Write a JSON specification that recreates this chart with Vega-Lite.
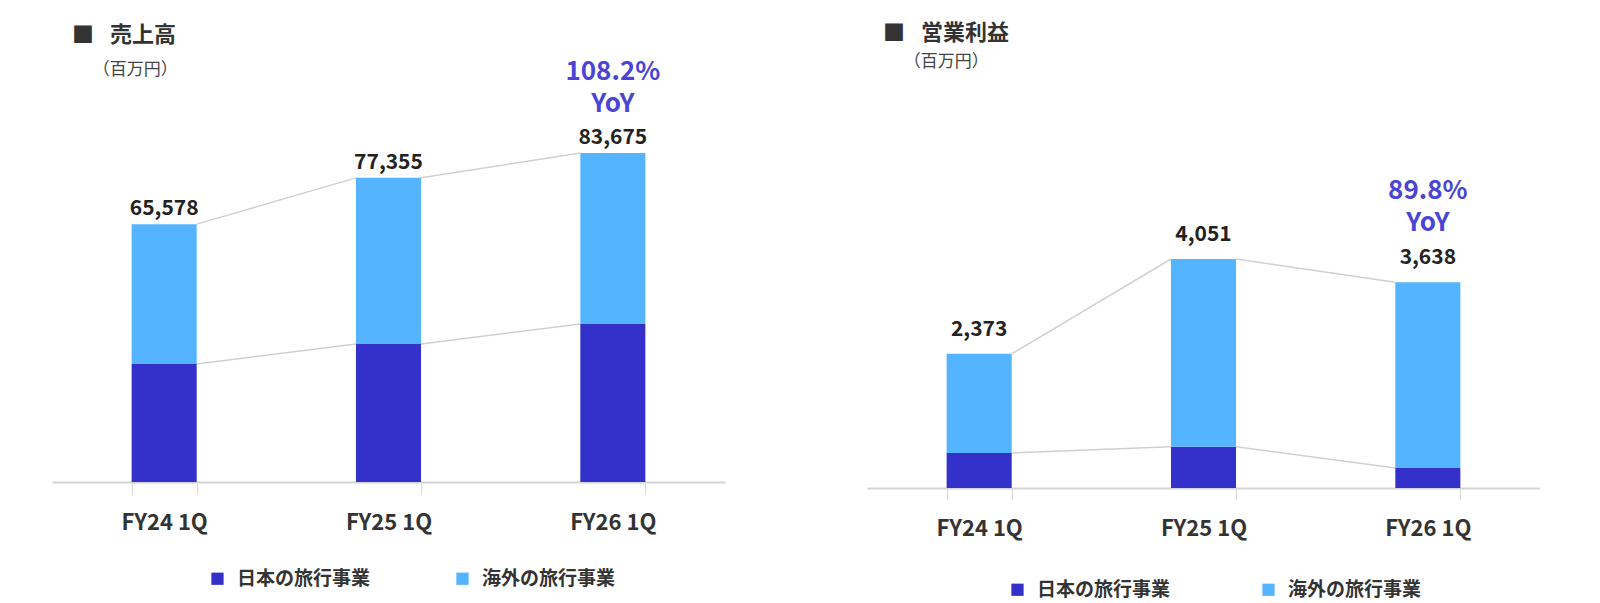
{
  "$schema": "https://vega.github.io/schema/vega-lite/v6.json",
  "description": "売上高 / 営業利益 stacked bars, FY24-FY26 1Q",
  "background": "white",
  "padding": {"left": 52, "top": 10, "right": 0, "bottom": 0},
  "bounds": "flush",
  "spacing": 142,
  "config": {
    "view": {"stroke": null},
    "font": "Noto Sans CJK JP",
    "axisX": {
      "labelAngle": 0,
      "labelFontSize": 22,
      "labelFontWeight": "bold",
      "labelColor": "#333333",
      "domainColor": "#d4d4d4",
      "domainWidth": 2,
      "tickColor": "#d8d8d8",
      "tickSize": 12,
      "tickWidth": 1,
      "tickBand": "extent",
      "labelPadding": 18,
      "grid": false
    },
    "legend": {
      "title": null,
      "orient": "none",
      "direction": "horizontal",
      "symbolType": "square",
      "symbolSize": 150,
      "symbolStrokeWidth": 0,
      "labelFontSize": 19,
      "labelFontWeight": "bold",
      "labelColor": "#333333",
      "labelOffset": 10,
      "columnPadding": 82
    },
    "title": {
      "anchor": "start",
      "frame": "group",
      "fontSize": 22,
      "fontWeight": "bold",
      "color": "#333333",
      "subtitleFontSize": 17,
      "subtitleColor": "#444444"
    }
  },
  "resolve": {"legend": {"color": "independent"}},
  "datasets": {
    "sales": [
      {"q": "FY24 1Q", "seg": "日本の旅行事業", "v": 30000},
      {"q": "FY24 1Q", "seg": "海外の旅行事業", "v": 35578},
      {"q": "FY25 1Q", "seg": "日本の旅行事業", "v": 35100},
      {"q": "FY25 1Q", "seg": "海外の旅行事業", "v": 42255},
      {"q": "FY26 1Q", "seg": "日本の旅行事業", "v": 40200},
      {"q": "FY26 1Q", "seg": "海外の旅行事業", "v": 43475}
    ],
    "salesTotals": [
      {"q": "FY24 1Q", "total": 65578},
      {"q": "FY25 1Q", "total": 77355},
      {"q": "FY26 1Q", "total": 83675}
    ],
    "salesYoy": [
      {"q": "FY26 1Q", "total": 83675, "yoy": "108.2%\nYoY"}
    ],
    "salesLinks": [
      {"from": "FY24 1Q", "to": "FY25 1Q", "y1": 65578, "y2": 77355},
      {"from": "FY25 1Q", "to": "FY26 1Q", "y1": 77355, "y2": 83675},
      {"from": "FY24 1Q", "to": "FY25 1Q", "y1": 30000, "y2": 35100},
      {"from": "FY25 1Q", "to": "FY26 1Q", "y1": 35100, "y2": 40200}
    ],
    "profit": [
      {"q": "FY24 1Q", "seg": "日本の旅行事業", "v": 620},
      {"q": "FY24 1Q", "seg": "海外の旅行事業", "v": 1753},
      {"q": "FY25 1Q", "seg": "日本の旅行事業", "v": 730},
      {"q": "FY25 1Q", "seg": "海外の旅行事業", "v": 3321},
      {"q": "FY26 1Q", "seg": "日本の旅行事業", "v": 355},
      {"q": "FY26 1Q", "seg": "海外の旅行事業", "v": 3283}
    ],
    "profitTotals": [
      {"q": "FY24 1Q", "total": 2373},
      {"q": "FY25 1Q", "total": 4051},
      {"q": "FY26 1Q", "total": 3638}
    ],
    "profitYoy": [
      {"q": "FY26 1Q", "total": 3638, "yoy": "89.8%\nYoY"}
    ],
    "profitLinks": [
      {"from": "FY24 1Q", "to": "FY25 1Q", "y1": 2373, "y2": 4051},
      {"from": "FY25 1Q", "to": "FY26 1Q", "y1": 4051, "y2": 3638},
      {"from": "FY24 1Q", "to": "FY25 1Q", "y1": 620, "y2": 730},
      {"from": "FY25 1Q", "to": "FY26 1Q", "y1": 730, "y2": 355}
    ]
  },
  "hconcat": [
    {
      "width": 673,
      "height": 472,
      "title": {"text": "■\u2002 売上高", "subtitle": "\u200B\u3000 （百万円）", "dx": 20, "offset": -69, "subtitlePadding": 15},
      "layer": [
        {
          "data": {"name": "salesLinks"},
          "mark": {"type": "rule", "color": "#d0d0d0", "strokeWidth": 1.5, "xOffset": 32.5, "x2Offset": -32.5},
          "encoding": {
            "x": {"field": "from", "type": "nominal", "title": null, "scale": {"domain": ["FY24 1Q", "FY25 1Q", "FY26 1Q"]}},
            "x2": {"field": "to"},
            "y": {"field": "y1", "type": "quantitative", "scale": {"domain": [0, 120044], "nice": false}, "axis": null},
            "y2": {"field": "y2"}
          }
        },
        {
          "data": {"name": "sales"},
          "mark": {"type": "bar"},
          "encoding": {
            "x": {
              "field": "q", "type": "nominal", "title": null,
              "scale": {"domain": ["FY24 1Q", "FY25 1Q", "FY26 1Q"], "paddingInner": 0.71, "paddingOuter": 0.355}
            },
            "y": {"field": "v", "type": "quantitative", "stack": "zero", "scale": {"domain": [0, 120044], "nice": false}, "axis": null},
            "color": {
              "field": "seg", "type": "nominal",
              "scale": {"domain": ["日本の旅行事業", "海外の旅行事業"], "range": ["#3331c9", "#54b4ff"]},
              "legend": {"legendX": 156, "legendY": 559}
            },
            "order": {"field": "seg", "sort": "ascending"}
          }
        },
        {
          "data": {"name": "salesTotals"},
          "mark": {"type": "text", "fontSize": 21, "fontWeight": "bold", "color": "#222222", "baseline": "middle", "dy": -15},
          "encoding": {
            "x": {"field": "q", "type": "nominal", "title": null, "scale": {"domain": ["FY24 1Q", "FY25 1Q", "FY26 1Q"]}},
            "y": {"field": "total", "type": "quantitative", "scale": {"domain": [0, 120044], "nice": false}, "axis": null},
            "text": {"field": "total", "type": "quantitative", "format": ","}
          }
        },
        {
          "data": {"name": "salesYoy"},
          "mark": {"type": "text", "fontSize": 26, "fontWeight": "bold", "color": "#4a45d4", "baseline": "middle", "lineBreak": "\n", "lineHeight": 32, "dy": -81},
          "encoding": {
            "x": {"field": "q", "type": "nominal", "title": null, "scale": {"domain": ["FY24 1Q", "FY25 1Q", "FY26 1Q"]}},
            "y": {"field": "total", "type": "quantitative", "scale": {"domain": [0, 120044], "nice": false}, "axis": null},
            "text": {"field": "yoy"}
          }
        }
      ]
    },
    {
      "width": 673,
      "height": 478,
      "title": {"text": "■\u2002 営業利益", "subtitle": "\u200B\u3000 （百万円）", "dx": 16, "offset": -61, "subtitlePadding": 9},
      "layer": [
        {
          "data": {"name": "profitLinks"},
          "mark": {"type": "rule", "color": "#d0d0d0", "strokeWidth": 1.5, "xOffset": 32.5, "x2Offset": -32.5},
          "encoding": {
            "x": {"field": "from", "type": "nominal", "title": null, "scale": {"domain": ["FY24 1Q", "FY25 1Q", "FY26 1Q"]}},
            "x2": {"field": "to"},
            "y": {"field": "y1", "type": "quantitative", "scale": {"domain": [0, 8456], "nice": false}, "axis": null},
            "y2": {"field": "y2"}
          }
        },
        {
          "data": {"name": "profit"},
          "mark": {"type": "bar"},
          "encoding": {
            "x": {
              "field": "q", "type": "nominal", "title": null,
              "scale": {"domain": ["FY24 1Q", "FY25 1Q", "FY26 1Q"], "paddingInner": 0.71, "paddingOuter": 0.355}
            },
            "y": {"field": "v", "type": "quantitative", "stack": "zero", "scale": {"domain": [0, 8456], "nice": false}, "axis": null},
            "color": {
              "field": "seg", "type": "nominal",
              "scale": {"domain": ["日本の旅行事業", "海外の旅行事業"], "range": ["#3331c9", "#54b4ff"]},
              "legend": {"legendX": 141, "legendY": 570, "columnPadding": 88}
            },
            "order": {"field": "seg", "sort": "ascending"}
          }
        },
        {
          "data": {"name": "profitTotals"},
          "mark": {"type": "text", "fontSize": 21, "fontWeight": "bold", "color": "#222222", "baseline": "middle", "dy": -24},
          "encoding": {
            "x": {"field": "q", "type": "nominal", "title": null, "scale": {"domain": ["FY24 1Q", "FY25 1Q", "FY26 1Q"]}},
            "y": {"field": "total", "type": "quantitative", "scale": {"domain": [0, 8456], "nice": false}, "axis": null},
            "text": {"field": "total", "type": "quantitative", "format": ","}
          }
        },
        {
          "data": {"name": "profitYoy"},
          "mark": {"type": "text", "fontSize": 26, "fontWeight": "bold", "color": "#4a45d4", "baseline": "middle", "lineBreak": "\n", "lineHeight": 32, "dy": -91},
          "encoding": {
            "x": {"field": "q", "type": "nominal", "title": null, "scale": {"domain": ["FY24 1Q", "FY25 1Q", "FY26 1Q"]}},
            "y": {"field": "total", "type": "quantitative", "scale": {"domain": [0, 8456], "nice": false}, "axis": null},
            "text": {"field": "yoy"}
          }
        }
      ]
    }
  ]
}
